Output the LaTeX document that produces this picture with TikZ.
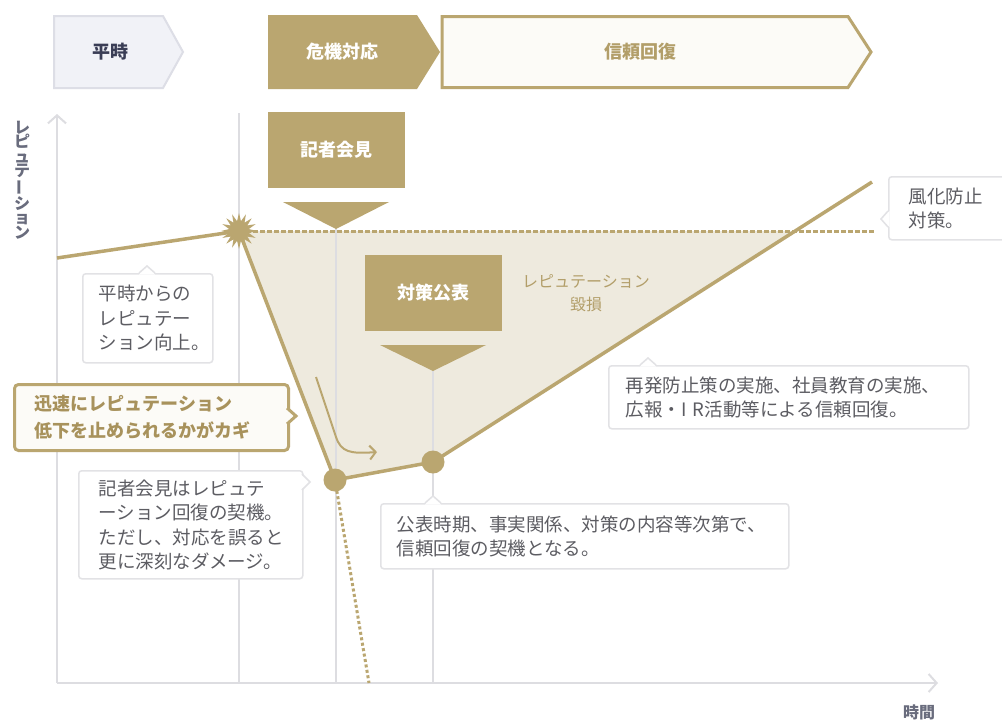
\documentclass[tikz,border=0pt]{standalone}
\usepackage{fontspec}
\usepackage{graphicx}
\setmainfont{Noto Sans CJK JP}
\usetikzlibrary{shapes.geometric,arrows.meta}
\definecolor{gold}{RGB}{186,166,112}
\definecolor{goldtext}{RGB}{178,158,105}
\definecolor{keytext}{RGB}{168,146,92}
\definecolor{dmgfill}{RGB}{238,234,222}
\definecolor{gridc}{RGB}{221,221,225}
\definecolor{cborder}{RGB}{226,226,229}
\definecolor{ctext}{RGB}{92,92,98}
\definecolor{navy}{RGB}{58,61,85}
\definecolor{peace}{RGB}{241,242,247}
\definecolor{peaceb}{RGB}{221,222,230}
\definecolor{cream}{RGB}{252,251,247}
\definecolor{axlabel}{RGB}{105,108,125}
\tikzset{
  ttl/.style={font=\fontsize{18}{22}\selectfont\bfseries, inner sep=0},
  gbox/.style={fill=gold, text=white, minimum width=137, minimum height=76, inner sep=0, font=\fontsize{18}{22}\selectfont\bfseries},
  cbox/.style={draw=cborder, fill=white, line width=1.5, rounded corners=3, text=ctext, align=left, anchor=north west, inner xsep=16, inner ysep=0, font=\fontsize{18.5}{24.5}\selectfont},
  notchfill/.style={fill=white},
  notchline/.style={draw=cborder, line width=1.5},
  gline/.style={draw=gridc, line width=2.5},
  axisarrow/.style={gline, -{Straight Barb[length=8, width=18, line width=2]}},
  curveline/.style={draw=gold, line width=3.5, line join=round},
  goldtri/.style={fill=gold},
}
\begin{document}
\begin{tikzpicture}[x=1pt,y=-1pt]
\useasboundingbox[fill=white] (0,0) rectangle (1002,724);

% phase arrows
\filldraw[fill=peace, draw=peaceb, line width=2] (54,16) -- (163,16) -- (183,52) -- (163,88) -- (54,88) -- cycle;
\node[ttl, text=navy] (p1) at (110,52) {平時};
\fill[gold] (268,15) -- (417,15) -- (440,52) -- (417,89) -- (268,89) -- cycle;
\node[ttl, text=white] (p2) at (342,52) {危機対応};
\filldraw[fill=cream, draw=gold, line width=3] (442,16.5) -- (848,16.5) -- (871,52) -- (848,87.5) -- (442,87.5) -- cycle;
\node[ttl, text=goldtext] (p3) at (640,52) {信頼回復};

% coordinates
\coordinate (O) at (57,683);
\coordinate (Ytop) at (57,114);
\coordinate (Xend) at (938,683);
\coordinate (s0) at (57,258);
\coordinate (st) at (239,231);
\coordinate (d1) at (335,480);
\coordinate (d2) at (433,462);
\coordinate (e) at (872,182);
\coordinate (cross) at (795.2,231);
\coordinate (dend) at (876,231);
\coordinate (dd) at (369,683);
\coordinate (g1t) at (239,113);
\coordinate (g1b) at (239,683);
\coordinate (g2t) at (336,229);
\coordinate (g2b) at (336,683);
\coordinate (g3t) at (433,371);
\coordinate (g3b) at (433,683);

% shaded damage area
\fill[dmgfill] (st) -- (d1) -- (d2) -- (cross) -- cycle;

% grid and axes
\draw[gline] (g1t) -- (g1b);
\draw[gline] (g2t) -- (g2b);
\draw[gline] (g3t) -- (g3b);
\draw[axisarrow] (O) -- (Ytop);
\draw[axisarrow] (O) -- (Xend);

% dashed level and dotted fall
\draw[gold, line width=3, dash pattern=on 4.5 off 2.5] (st) -- (dend);
\draw[gold, line width=3, dash pattern=on 3 off 2.5] (d1) -- (dd);

% reputation curve
\draw[curveline] (s0) -- (st) -- (d1) -- (d2) -- (e);
\node[star, star points=16, star point ratio=1.8, fill=gold, minimum size=36, inner sep=0] (stn) at (st) {};
\node[circle, fill=gold, minimum size=23, inner sep=0] (d1n) at (d1) {};
\node[circle, fill=gold, minimum size=23, inner sep=0] (d2n) at (d2) {};

% event boxes
\node[gbox] (kaiken) at (336.5,150) {記者会見};
\fill[goldtri] (283,202) -- (389,202) -- (336,229) -- cycle;
\node[gbox] (koho) at (433,293) {対策公表};
\fill[goldtri] (380,345) -- (486,345) -- (433,371) -- cycle;

\node[font=\fontsize{16}{23}\selectfont, text=goldtext, align=center] (dmg) at (586,293) {レピュテーション\\毀損};

% callouts
\node[cbox, text width=98, minimum height=89] (hp) at (82,273) {平時からの\\レピュテー\\ション向上。};
\fill[notchfill] (139,274.5) -- (147,266) -- (155,274.5) -- cycle;
\draw[notchline] (139,273) -- (147,266) -- (155,273);

\node[cbox, draw=gold, line width=3, fill=cream, text=keytext, font=\fontsize{18}{27}\selectfont\bfseries, inner xsep=20, text width=234, minimum height=66, rounded corners=4] (key) at (13,383) {迅速にレピュテーション\\低下を止められるかがカギ};
\fill[cream] (285,408) -- (296,416) -- (285,424) -- cycle;
\draw[gold, line width=3] (287,408) -- (296,416) -- (287,424);

\node[cbox, inner xsep=20, text width=184, minimum height=108] (kk) at (78,470) {記者会見はレピュテ\\ーション回復の契機。\\ただし、対応を誤ると\\更に深刻なダメージ。};
\fill[notchfill] (300.5,474) -- (310,482) -- (300.5,490) -- cycle;
\draw[notchline] (302,474) -- (310,482) -- (302,490);

\node[cbox, text width=376, minimum height=65] (kh) at (380,503) {公表時期、事実関係、対策の内容等次第で、\\信頼回復の契機となる。};
\fill[notchfill] (425,504.5) -- (433,496) -- (441,504.5) -- cycle;
\draw[notchline] (425,503) -- (433,496) -- (441,503);

\node[cbox, inner xsep=17, text width=326, minimum height=63] (sh) at (608,365) {再発防止策の実施、社員教育の実施、\\広報・I R活動等による信頼回復。};
\fill[notchfill] (640,366.5) -- (648,358) -- (656,366.5) -- cycle;
\draw[notchline] (640,365) -- (648,358) -- (656,365);

\node[cbox, inner xsep=20, text width=100, minimum height=63] (fk) at (888,176) {風化防止\\対策。};
\fill[notchfill] (889.5,211) -- (881,219) -- (889.5,227) -- cycle;
\draw[notchline] (888,211) -- (881,219) -- (888,227);

% curved arrow
\coordinate (a1) at (316,377);
\coordinate (a2) at (377,452);
\draw[gold, line width=2, -{Straight Barb[length=6, width=14, line width=2]}] (a1) -- (336,437) .. controls (341,452) and (350,454) .. (a2);

% axis labels
\node[font=\fontsize{16}{14.5}\selectfont\bfseries, text=axlabel, align=center, inner sep=0] (ylab) at (22,180) {レ\\ピ\\ュ\\テ\\\rotatebox[origin=c]{90}{ー}\\シ\\ョ\\ン};
\node[font=\fontsize{16}{16}\selectfont\bfseries, text=axlabel] (xlab) at (919,712) {時間};
\end{tikzpicture}
\end{document}
